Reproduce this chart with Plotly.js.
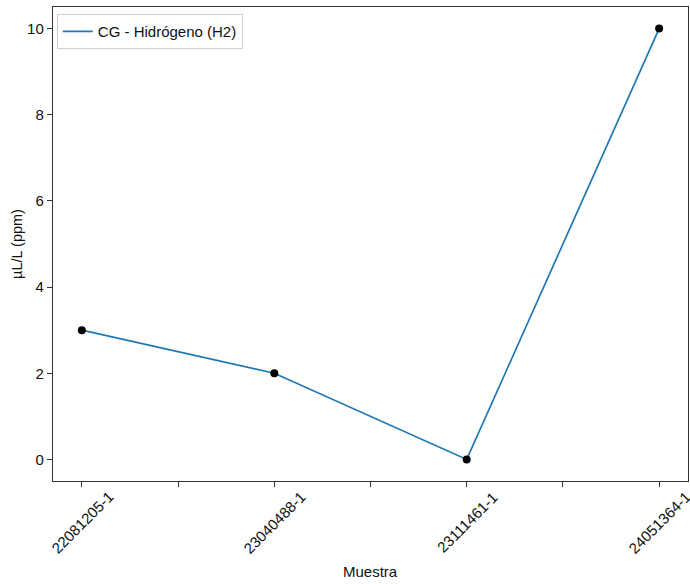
<!DOCTYPE html>
<html>
<head>
<meta charset="utf-8">
<script src="https://cdn.plot.ly/plotly-3.0.1.min.js"></script>
<style>html,body{margin:0;padding:0;background:#fff;}#chart{width:690px;height:584px;}</style>
</head>
<body>
<div id="chart"></div>
<script>
const categories = ["22081205-1", "23040488-1", "23111461-1", "24051364-1"];
const values = [3, 2, 0, 10];
const seriesName = "CG - Hidrógeno (H2)";
const yTicks = [0, 2, 4, 6, 8, 10];
const xTitle = "Muestra";
const yTitle = "µL/L (ppm)";

const idx = categories.map((c, i) => i);
const tickVals = [];
categories.forEach((c, i) => {
  tickVals.push(i);
  if (i < categories.length - 1) tickVals.push(i + 0.5);
});

const font = {family: "Liberation Sans, Arial, sans-serif", size: 15, color: "#111"};

const data = [
  {x: idx, y: values, mode: "lines", name: seriesName, line: {color: "#1f77b4", width: 1.7}, showlegend: true},
  {x: idx, y: values, mode: "markers", marker: {color: "#000", size: 8}, showlegend: false, hoverinfo: "skip"}
];

const annotations = categories.map((c, i) => ({
  x: i, xref: "x", y: 0, yref: "paper", yshift: -41, text: c, textangle: -45,
  showarrow: false, xanchor: "center", yanchor: "middle", font: font
}));
annotations.push({x: 0.5, xref: "paper", y: 0, yref: "paper", yshift: -90, text: xTitle,
  showarrow: false, xanchor: "center", yanchor: "middle", font: font});

const layout = {
  width: 690, height: 584,
  margin: {l: 53, r: 2, t: 7, b: 103},
  paper_bgcolor: "#fff", plot_bgcolor: "#fff",
  font: font,
  annotations: annotations,
  xaxis: {
    range: [-0.15, 3.15], tickmode: "array", tickvals: tickVals, showticklabels: false,
    ticks: "outside", ticklen: 5, tickwidth: 1, tickcolor: "#333",
    showline: true, linecolor: "#333", linewidth: 1.2, mirror: true, showgrid: false, zeroline: false
  },
  yaxis: {
    range: [-0.5, 10.5], tickmode: "array", tickvals: yTicks, ticks: "outside", ticklen: 5, tickwidth: 1, tickcolor: "#333",
    showline: true, linecolor: "#333", linewidth: 1.2, mirror: true, showgrid: false, zeroline: false,
    title: {text: yTitle, font: {family: font.family, size: 14.5, color: font.color}, standoff: 1}
  },
  legend: {x: 0.006, y: 0.985, xanchor: "left", yanchor: "top", bgcolor: "rgba(255,255,255,0.8)",
           bordercolor: "#d0d0d0", borderwidth: 1, font: font}
};

Plotly.newPlot("chart", data, layout, {staticPlot: true});
</script>
</body>
</html>
